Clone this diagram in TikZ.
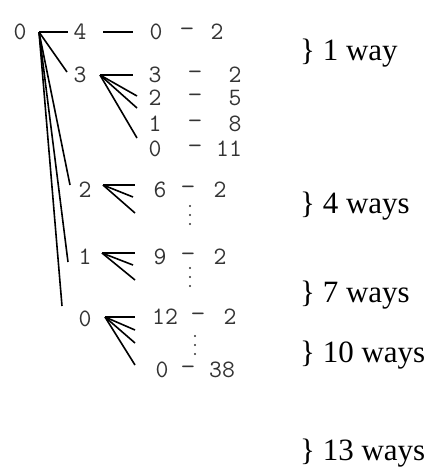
\documentclass[tikz,border=0pt]{standalone}
\usepackage{fontspec}
\newfontfamily\wayfont{Liberation Serif}
\definecolor{numgray}{HTML}{333333}
\newcommand{\wdash}{\scalebox{1.15}[1]{-}}
\begin{document}
\begin{tikzpicture}[x=1pt,y=-1pt,
  num/.style={font=\ttfamily\fontsize{25}{27}\selectfont, text=numgray, inner sep=0pt, anchor=center},
  way/.style={font=\wayfont\fontsize{31}{34}\selectfont, text=black, inner sep=0pt, anchor=base west},
  fanline/.style={line width=1.6pt, black},
  dotmark/.style={fill=numgray}]
\useasboundingbox (0,0) rectangle (438,475);
% level 0 and 1
\node[num] (r0) at (20,32) {0};
\node[num] (n4) at (80,32) {4};
\node[num] (n3) at (80,75) {3};
\node[num] (n2) at (85,190) {2};
\node[num] (n1) at (85,257) {1};
\node[num] (n0) at (85,319) {0};
% top row
\node[num] (a1) at (156,32) {0};
\node[num] (a2) at (187,32) {\wdash};
\node[num] (a3) at (217,32) {2};
% branch 3
\node[num] (b11) at (155,75) {3};
\node[num] (b12) at (195,75) {\wdash};
\node[num] (b13) at (235,75) {2};
\node[num] (b21) at (155,98) {2};
\node[num] (b22) at (195,98) {\wdash};
\node[num] (b23) at (235,98) {5};
\node[num] (b31) at (155,124) {1};
\node[num] (b32) at (195,124) {\wdash};
\node[num] (b33) at (235,124) {8};
\node[num] (b41) at (155,149) {0};
\node[num] (b42) at (195,149) {\wdash};
\node[num] (b43) at (229,149) {11};
% branch 2
\node[num] (c11) at (160,190) {6};
\node[num] (c12) at (188,190) {\wdash};
\node[num] (c13) at (220,190) {2};
% branch 1
\node[num] (d11) at (160,257) {9};
\node[num] (d12) at (188,257) {\wdash};
\node[num] (d13) at (220,257) {2};
% branch 0
\node[num] (e11) at (165,317) {12};
\node[num] (e12) at (198,317) {\wdash};
\node[num] (e13) at (230,317) {2};
\node[num] (e21) at (162,370) {0};
\node[num] (e22) at (188,370) {\wdash};
\node[num] (e23) at (222,370) {38};
% vertical dots
\foreach \x/\y in {190/206, 190/268, 195/336}{
  \fill[dotmark] (\x,\y) circle (1.2) (\x,\y+9) circle (1.2) (\x,\y+18) circle (1.2);
}
% fan points
\coordinate (f0) at (39,32);
\coordinate (f3) at (100,75);
\coordinate (f2) at (103,185);
\coordinate (f1) at (102,253);
\coordinate (fz) at (105,317);
% root fan
\draw[fanline] (f0) -- (68,32);
\draw[fanline] (f0) -- (67,72);
\draw[fanline] (f0) -- (70,185);
\draw[fanline] (f0) -- (68,262);
\draw[fanline] (f0) -- (62,306);
\draw[fanline] (103,32) -- (133,32);
% fan of 3
\draw[fanline] (f3) -- (133,75);
\draw[fanline] (f3) -- (137,96);
\draw[fanline] (f3) -- (137,108);
\draw[fanline] (f3) -- (137,138);
% fan of 2
\draw[fanline] (f2) -- (135,185);
\draw[fanline] (f2) -- (133,197);
\draw[fanline] (f2) -- (135,213);
% fan of 1
\draw[fanline] (f1) -- (135,253);
\draw[fanline] (f1) -- (133,265);
\draw[fanline] (f1) -- (135,280);
% fan of 0
\draw[fanline] (fz) -- (135,317);
\draw[fanline] (fz) -- (135,330);
\draw[fanline] (fz) -- (135,343);
\draw[fanline] (fz) -- (135,365);
% way labels
\node[way] (w1) at (300,60) {\} 1 way};
\node[way] (w4) at (300,213) {\} 4 ways};
\node[way] (w7) at (300,302) {\} 7 ways};
\node[way] (w10) at (300,362) {\} 10 ways};
\node[way] (w13) at (300,460) {\} 13 ways};
\end{tikzpicture}
\end{document}
